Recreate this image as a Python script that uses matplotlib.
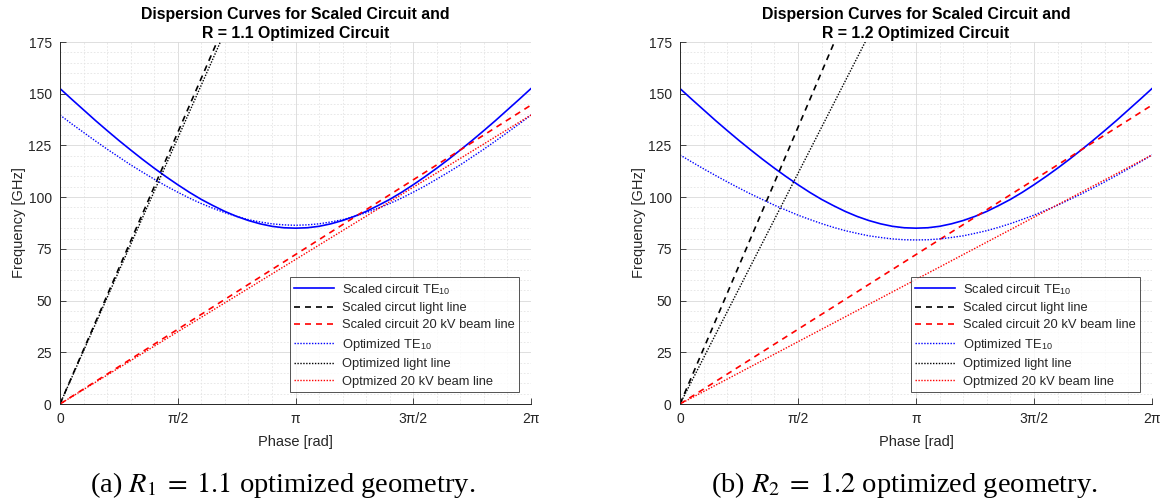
import numpy as np
import matplotlib
matplotlib.use("Agg")
import matplotlib.pyplot as plt
from matplotlib.ticker import MultipleLocator, FixedLocator

plt.rcParams["font.family"] = ["Liberation Sans", "DejaVu Sans"]
plt.rcParams["mathtext.fontset"] = "stix"

# Phase samples (in units of pi) for the TE10 dispersion curves
phase_pi = [0.00, 0.05, 0.10, 0.15, 0.20, 0.25, 0.30, 0.35, 0.40, 0.45, 0.50,
            0.55, 0.60, 0.65, 0.70, 0.75, 0.80, 0.85, 0.90, 0.95, 1.00,
            1.05, 1.10, 1.15, 1.20, 1.25, 1.30, 1.35, 1.40, 1.45, 1.50,
            1.55, 1.60, 1.65, 1.70, 1.75, 1.80, 1.85, 1.90, 1.95, 2.00]

# Scaled circuit TE10 mode [GHz]
scaled_te10 = [152.5, 147.3, 142.2, 137.1, 132.2, 127.4, 122.8, 118.3, 114.0, 109.9, 106.0,
               102.3, 98.9, 95.9, 93.1, 90.7, 88.7, 87.1, 85.9, 85.2, 85.0,
               85.2, 85.9, 87.1, 88.7, 90.7, 93.1, 95.9, 98.9, 102.3, 106.0,
               109.9, 114.0, 118.3, 122.8, 127.4, 132.2, 137.1, 142.2, 147.3, 152.5]

# Optimized TE10 mode, R = 1.1 [GHz]
opt11_te10 = [139.7, 135.4, 131.3, 127.2, 123.2, 119.4, 115.6, 112.1, 108.7, 105.4, 102.4,
              99.5, 96.9, 94.6, 92.5, 90.7, 89.1, 88.0, 87.1, 86.6, 86.4,
              86.6, 87.1, 88.0, 89.1, 90.7, 92.5, 94.6, 96.9, 99.5, 102.4,
              105.4, 108.7, 112.1, 115.6, 119.4, 123.2, 127.2, 131.3, 135.4, 139.7]

# Optimized TE10 mode, R = 1.2 [GHz]
opt12_te10 = [120.4, 117.0, 113.7, 110.5, 107.4, 104.4, 101.5, 98.8, 96.1, 93.7, 91.3,
              89.2, 87.2, 85.4, 83.8, 82.5, 81.3, 80.5, 79.8, 79.4, 79.3,
              79.4, 79.8, 80.5, 81.3, 82.5, 83.8, 85.4, 87.2, 89.2, 91.3,
              93.7, 96.1, 98.8, 101.5, 104.4, 107.4, 110.5, 113.7, 117.0, 120.4]

# Straight lines (light lines and 20 kV beam lines): values at phase 0 and 2*pi [GHz]
line_phase_pi = [0.0, 2.0]
scaled11_light = [0.0, 525.0]
scaled12_light = [0.0, 535.0]
scaled_beam = [0.0, 144.5]
opt11_light = [0.0, 514.0]
opt11_beam = [0.0, 139.7]
opt12_light = [0.0, 446.0]
opt12_beam = [0.0, 120.4]

xtick_pi = [0.0, 0.5, 1.0, 1.5, 2.0]
xtick_labels = ["0", "π/2", "π", "3π/2", "2π"]
yticks = [0, 25, 50, 75, 100, 125, 150, 175]

panels = [
    dict(rect=[60 / 1161, 99 / 503, 471 / 1161, 362 / 503],
         title="Dispersion Curves for Scaled Circuit and\nR = 1.1 Optimized Circuit",
         scaled_light=scaled11_light, te10=opt11_te10, light=opt11_light, beam=opt11_beam,
         caption=r"(a) $R_1\;=\;1.1$ optimized geometry.", cx=283 / 1161),
    dict(rect=[680 / 1161, 99 / 503, 472 / 1161, 362 / 503],
         title="Dispersion Curves for Scaled Circuit and\nR = 1.2 Optimized Circuit",
         scaled_light=scaled12_light, te10=opt12_te10, light=opt12_light, beam=opt12_beam,
         caption=r"(b) $R_2\;=\;1.2$ optimized geometry.", cx=904 / 1161),
]

fig = plt.figure(figsize=(11.61, 5.03), dpi=100)

ph = np.array(phase_pi) * np.pi
lph = np.array(line_phase_pi) * np.pi
axis_col = "#262626"
dash = (0, (3.6, 3.0))
dot = (0, (1, 1.1))

for p in panels:
    ax = fig.add_axes(p["rect"])
    ax.plot(ph, scaled_te10, color="blue", lw=1.2, ls="-", label=r"Scaled circuit TE$_\mathregular{10}$")
    ax.plot(lph, p["scaled_light"], color="black", lw=1.2, ls=dash, label="Scaled circut light line")
    ax.plot(lph, scaled_beam, color="red", lw=1.2, ls=dash, label="Scaled circuit 20 kV beam line")
    ax.plot(ph, p["te10"], color="blue", lw=1.0, ls=dot, label=r"Optimized TE$_\mathregular{10}$")
    ax.plot(lph, p["light"], color="black", lw=1.0, ls=dot, label="Optimized light line")
    ax.plot(lph, p["beam"], color="red", lw=1.0, ls=dot, label="Optmized 20 kV beam line")

    ax.set_xlim(0, 2 * np.pi)
    ax.set_ylim(0, 175)
    ax.xaxis.set_major_locator(FixedLocator(np.array(xtick_pi) * np.pi))
    ax.set_xticklabels(xtick_labels)
    ax.xaxis.set_minor_locator(MultipleLocator(np.pi / 10))
    ax.set_yticks(yticks)
    ax.yaxis.set_minor_locator(MultipleLocator(5))

    ax.grid(which="major", color="#d9d9d9", lw=0.6, ls="-")
    ax.grid(which="minor", color="#e4e4e4", lw=0.6, ls=(0, (2, 2)))
    ax.set_axisbelow(True)

    for s in ("top", "right"):
        ax.spines[s].set_visible(False)
    for s in ("left", "bottom"):
        ax.spines[s].set_color(axis_col)
        ax.spines[s].set_linewidth(0.7)
    ax.tick_params(which="major", direction="in", length=4, width=0.6, color=axis_col,
                   labelsize=10, labelcolor=axis_col, pad=6)
    ax.tick_params(which="minor", length=0)

    ax.set_xlabel("Phase [rad]", fontsize=10.5, color=axis_col, labelpad=6)
    ax.set_ylabel("Frequency [GHz]", fontsize=10.5, color=axis_col, labelpad=2)
    ax.set_title(p["title"], fontsize=11.4, fontweight="bold", color="black", pad=3, linespacing=1.3)

    leg = ax.legend(loc="lower right", fontsize=9.3, frameon=True, fancybox=False,
                    borderaxespad=0.9, handlelength=3.1, handletextpad=0.6,
                    labelspacing=0.42, borderpad=0.35)
    leg.get_frame().set_edgecolor(axis_col)
    leg.get_frame().set_linewidth(0.7)
    for t in leg.get_texts():
        t.set_color(axis_col)

    fig.text(p["cx"], 18 / 503, p["caption"], ha="center", va="center",
             fontsize=20.5, family=["Liberation Serif", "DejaVu Serif"])

fig.savefig("out.png", dpi=100)
